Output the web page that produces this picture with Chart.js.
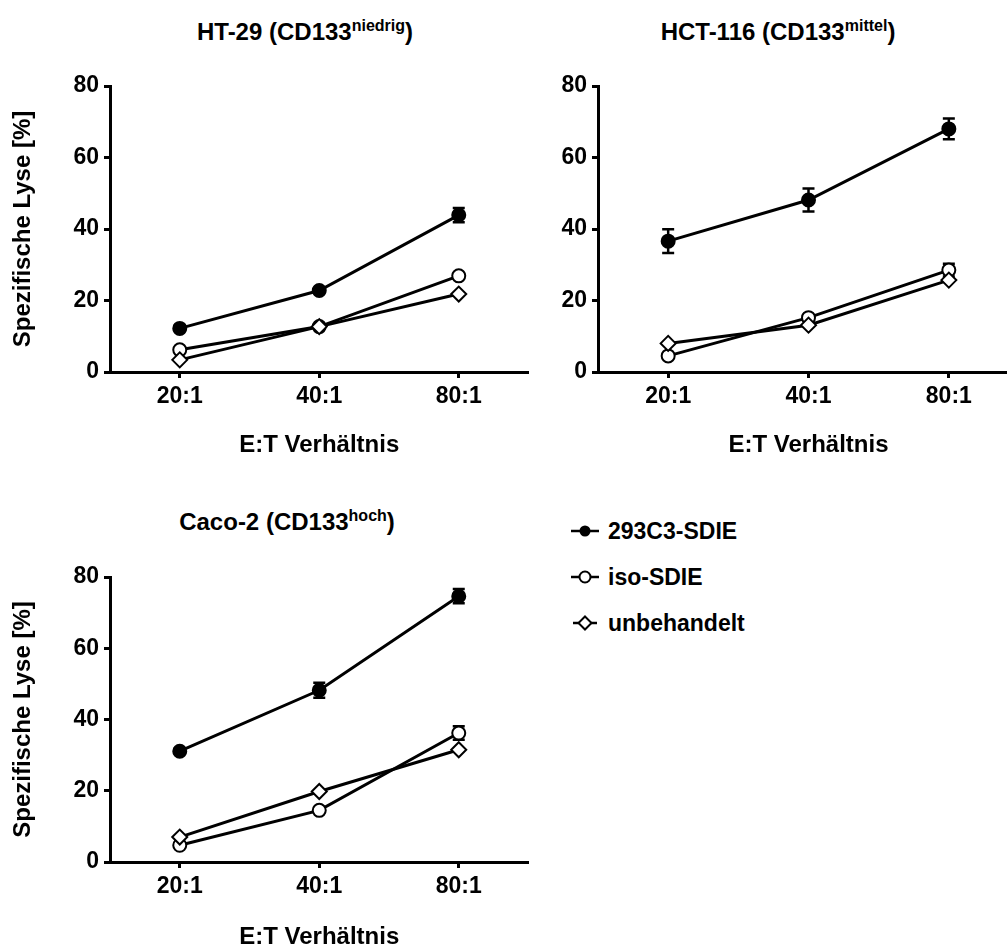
<!DOCTYPE html>
<html>
<head>
<meta charset="utf-8">
<script src="https://cdn.jsdelivr.net/npm/chart.js@4"></script>
<style>
  html, body { margin: 0; padding: 0; background: #fff; overflow: hidden; }
  #page { position: relative; width: 1007px; height: 947px; overflow: hidden; font-family: "Liberation Sans", Arial, sans-serif; font-weight: bold; color: #000; }
  canvas { position: absolute; }
  .title { position: absolute; font-size: 24px; line-height: 24px; white-space: nowrap; transform: translateX(-50%); }
  .title sup { font-size: 16px; vertical-align: 0; position: relative; top: -9px; }
  .legend { position: absolute; left: 570px; top: 508px; font-size: 23px; }
  .legend div { height: 46px; display: flex; align-items: center; }
  .legend svg { margin-right: 8px; }
</style>
</head>
<body>
<div id="page">
  <div class="title" style="left:305px; top:20px">HT-29 (CD133<sup>niedrig</sup>)</div>
  <div class="title" style="left:778px; top:20px">HCT-116 (CD133<sup>mittel</sup>)</div>
  <div class="title" style="left:287px; top:510px">Caco-2 (CD133<sup>hoch</sup>)</div>

  <canvas id="chartHT29" width="538" height="470" style="left:0; top:0"></canvas>
  <canvas id="chartHCT116" width="520" height="470" style="left:520px; top:0"></canvas>
  <canvas id="chartCaco2" width="538" height="500" style="left:0; top:470px"></canvas>

  <div class="legend">
    <div><svg width="30" height="16"><line x1="1" y1="8" x2="29" y2="8" stroke="#000" stroke-width="2.5"/><circle cx="15" cy="8" r="5.5" fill="#000"/></svg>293C3-SDIE</div>
    <div><svg width="30" height="16"><line x1="1" y1="8" x2="29" y2="8" stroke="#000" stroke-width="2.5"/><circle cx="15" cy="8" r="5.5" fill="#fff" stroke="#000" stroke-width="2"/></svg>iso-SDIE</div>
    <div><svg width="30" height="16"><line x1="3" y1="8" x2="27" y2="8" stroke="#000" stroke-width="2.5"/><polygon points="15,1.5 21.5,8 15,14.5 8.5,8" fill="#fff" stroke="#000" stroke-width="2"/></svg>unbehandelt</div>
  </div>
</div>

<script>
const categories = ['20:1', '40:1', '80:1'];
const yTicks = [0, 20, 40, 60, 80];
const seriesNames = ['293C3-SDIE', 'iso-SDIE', 'unbehandelt'];

// HT-29
const ht29Sdie = [12.2, 22.8, 43.9];
const ht29SdieErr = [0.8, 0.8, 2.0];
const ht29Iso = [6.2, 12.7, 26.9];
const ht29IsoErr = [0.5, 0.5, 0.8];
const ht29Unbeh = [3.4, 12.7, 21.8];

// HCT-116
const hct116Sdie = [36.6, 48.1, 68.0];
const hct116SdieErr = [3.3, 3.2, 2.9];
const hct116Iso = [4.5, 15.2, 28.5];
const hct116IsoErr = [0.5, 0.8, 1.8];
const hct116Unbeh = [8.0, 13.1, 25.7];

// Caco-2
const caco2Sdie = [31.1, 48.2, 74.6];
const caco2SdieErr = [0.8, 2.1, 2.0];
const caco2Iso = [4.7, 14.5, 36.2];
const caco2IsoErr = [0.5, 0.5, 1.9];
const caco2Unbeh = [7.0, 19.8, 31.5];

const FONT = '"Liberation Sans", Arial, sans-serif';

// vertical error bars with caps, drawn under the markers
const errorBars = {
  id: 'errorBars',
  beforeDatasetsDraw(chart) {
    const { ctx, scales: { x, y } } = chart;
    ctx.save();
    ctx.strokeStyle = '#000';
    ctx.lineWidth = 2.5;
    chart.data.datasets.forEach(ds => {
      if (!ds.errors) return;
      ds.data.forEach((v, j) => {
        const e = ds.errors[j];
        if (!e) return;
        const px = x.getPixelForValue(j);
        const top = y.getPixelForValue(v + e);
        const bot = y.getPixelForValue(v - e);
        ctx.beginPath();
        ctx.moveTo(px, top); ctx.lineTo(px, bot);
        ctx.moveTo(px - 6, top); ctx.lineTo(px + 6, top);
        ctx.moveTo(px - 6, bot); ctx.lineTo(px + 6, bot);
        ctx.stroke();
      });
    });
    ctx.restore();
  }
};

function makeDatasets(sdie, sdieErr, iso, isoErr, unbeh) {
  const base = { borderColor: '#000', borderWidth: 3, tension: 0, pointBorderColor: '#000', pointBorderWidth: 2, clip: false };
  return [
    { ...base, label: seriesNames[2], data: unbeh, pointStyle: 'rectRot', pointRadius: 7.5, pointBackgroundColor: '#fff' },
    { ...base, label: seriesNames[1], data: iso, errors: isoErr, pointStyle: 'circle', pointRadius: 6.5, pointBackgroundColor: '#fff' },
    { ...base, label: seriesNames[0], data: sdie, errors: sdieErr, pointStyle: 'circle', pointRadius: 6.5, pointBackgroundColor: '#000' }
  ];
}

function makeChart(id, datasets, opts) {
  const ctx = document.getElementById(id).getContext('2d');
  return new Chart(ctx, {
    type: 'line',
    data: { labels: categories, datasets },
    plugins: [errorBars],
    options: {
      responsive: false,
      animation: false,
      events: [],
      layout: { padding: { top: opts.top, right: opts.right, left: 0, bottom: 0 } },
      plugins: { legend: { display: false }, tooltip: { enabled: false }, title: { display: false } },
      scales: {
        x: {
          type: 'category',
          offset: true,
          afterFit: s => { s.height = opts.xHeight; },
          border: { display: true, color: '#000', width: 3 },
          grid: { drawOnChartArea: false, drawTicks: true, tickLength: 6, tickWidth: 3, tickColor: '#000' },
          ticks: { color: '#000', padding: 5, font: { family: FONT, size: 23, weight: 'bold' } },
          title: {
            display: true, text: 'E:T Verhältnis', color: '#000',
            padding: { top: 0, bottom: opts.xTitlePad },
            font: { family: FONT, size: 24, weight: 'bold' }
          }
        },
        y: {
          min: 0, max: 80,
          afterFit: s => { s.width = opts.yWidth; },
          afterBuildTicks: s => { s.ticks = yTicks.map(v => ({ value: v })); },
          border: { display: true, color: '#000', width: 3 },
          grid: { drawOnChartArea: false, drawTicks: true, tickLength: 6, tickWidth: 3, tickColor: '#000' },
          ticks: { color: '#000', padding: 5, font: { family: FONT, size: 23, weight: 'bold' } },
          title: {
            display: opts.yTitle, text: 'Spezifische Lyse [%]', color: '#000',
            padding: { top: 8.5, bottom: 0 },
            font: { family: FONT, size: 24, weight: 'bold' }
          }
        }
      }
    }
  });
}

makeChart('chartHT29',
  makeDatasets(ht29Sdie, ht29SdieErr, ht29Iso, ht29IsoErr, ht29Unbeh),
  { top: 86, right: 2, xHeight: 98, xTitlePad: 10.5, yWidth: 110, yTitle: true });

makeChart('chartHCT116',
  makeDatasets(hct116Sdie, hct116SdieErr, hct116Iso, hct116IsoErr, hct116Unbeh),
  { top: 86, right: 21, xHeight: 98, xTitlePad: 10.5, yWidth: 78, yTitle: false });

makeChart('chartCaco2',
  makeDatasets(caco2Sdie, caco2SdieErr, caco2Iso, caco2IsoErr, caco2Unbeh),
  { top: 107, right: 2, xHeight: 108, xTitlePad: 18.5, yWidth: 110, yTitle: true });
</script>
</body>
</html>
